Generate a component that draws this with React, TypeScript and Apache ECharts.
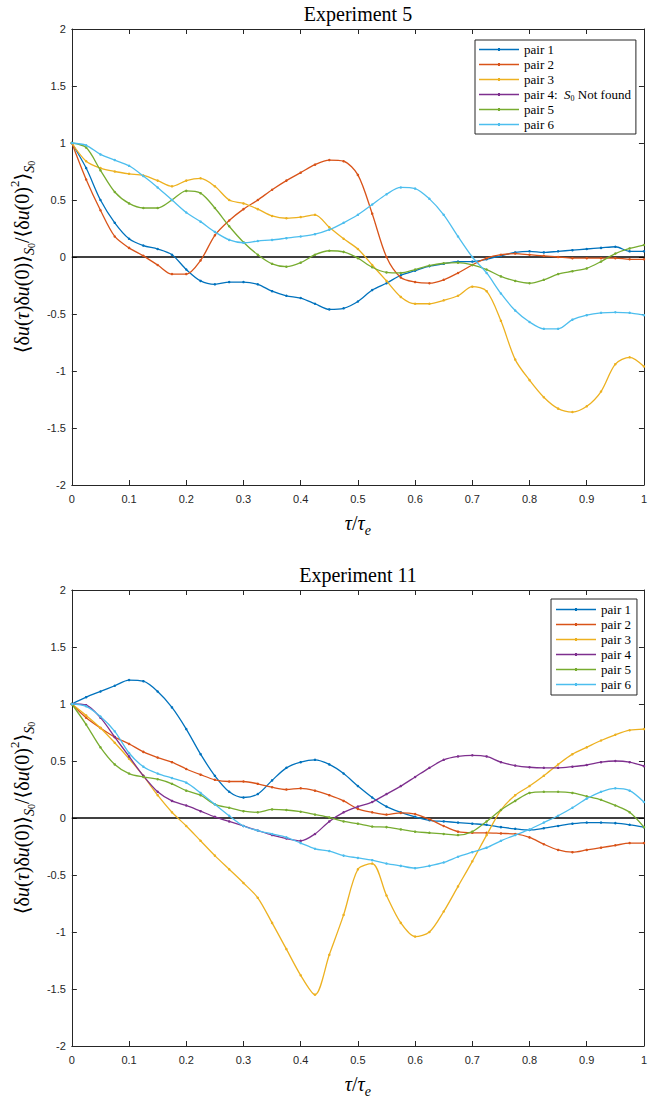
import React, { useEffect, useRef } from "react";
import * as echarts from "echarts";

// tau / tau_e sample positions
const tau = [0, 0.025, 0.05, 0.075, 0.1, 0.125, 0.15, 0.175, 0.2, 0.225, 0.25, 0.275, 0.3, 0.325, 0.35, 0.375, 0.4, 0.425, 0.45, 0.475, 0.5, 0.525, 0.55, 0.575, 0.6, 0.625, 0.65, 0.675, 0.7, 0.725, 0.75, 0.775, 0.8, 0.825, 0.85, 0.875, 0.9, 0.925, 0.95, 0.975, 1];

// Experiment 5
const e5p1 = [1.0, 0.78, 0.5, 0.3, 0.16, 0.1, 0.07, 0.02, -0.11, -0.21, -0.24, -0.22, -0.22, -0.24, -0.3, -0.34, -0.36, -0.41, -0.46, -0.45, -0.39, -0.29, -0.23, -0.16, -0.12, -0.08, -0.06, -0.04, -0.04, -0.02, 0.01, 0.04, 0.05, 0.04, 0.05, 0.06, 0.07, 0.08, 0.09, 0.05, 0.05];
const e5p2 = [1.0, 0.68, 0.41, 0.18, 0.08, 0.01, -0.07, -0.15, -0.15, -0.03, 0.19, 0.32, 0.42, 0.5, 0.59, 0.67, 0.74, 0.81, 0.85, 0.84, 0.72, 0.38, 0.0, -0.18, -0.22, -0.23, -0.2, -0.14, -0.07, -0.01, 0.02, 0.03, 0.02, 0.01, 0.0, -0.01, -0.01, -0.01, -0.01, -0.02, -0.02];
const e5p3 = [1.0, 0.84, 0.78, 0.75, 0.73, 0.715, 0.67, 0.62, 0.67, 0.69, 0.62, 0.5, 0.47, 0.42, 0.36, 0.34, 0.35, 0.37, 0.26, 0.16, 0.07, -0.07, -0.21, -0.35, -0.41, -0.41, -0.38, -0.34, -0.26, -0.3, -0.56, -0.9, -1.08, -1.23, -1.33, -1.36, -1.31, -1.18, -0.94, -0.88, -0.96];
const e5p4: number[] = [];
const e5p5 = [1.0, 0.96, 0.76, 0.57, 0.47, 0.43, 0.43, 0.5, 0.58, 0.56, 0.43, 0.27, 0.13, 0.02, -0.06, -0.085, -0.05, 0.02, 0.055, 0.045, -0.01, -0.09, -0.135, -0.14, -0.11, -0.075, -0.055, -0.05, -0.07, -0.11, -0.17, -0.21, -0.23, -0.2, -0.15, -0.125, -0.1, -0.04, 0.03, 0.075, 0.105];
const e5p6 = [1.0, 0.98, 0.9, 0.85, 0.8, 0.71, 0.61, 0.5, 0.39, 0.31, 0.22, 0.15, 0.125, 0.14, 0.15, 0.165, 0.18, 0.2, 0.24, 0.3, 0.37, 0.46, 0.55, 0.61, 0.6, 0.51, 0.37, 0.18, 0.0, -0.14, -0.32, -0.47, -0.57, -0.63, -0.63, -0.55, -0.51, -0.49, -0.485, -0.49, -0.51];

// Experiment 11
const e11p1 = [1.0, 1.06, 1.11, 1.16, 1.21, 1.2, 1.11, 0.97, 0.78, 0.56, 0.37, 0.23, 0.18, 0.21, 0.33, 0.44, 0.49, 0.51, 0.47, 0.39, 0.28, 0.18, 0.1, 0.05, 0.01, -0.02, -0.03, -0.04, -0.05, -0.06, -0.08, -0.095, -0.105, -0.09, -0.07, -0.05, -0.04, -0.04, -0.045, -0.06, -0.08];
const e11p2 = [1.0, 0.88, 0.79, 0.71, 0.65, 0.58, 0.53, 0.49, 0.43, 0.38, 0.335, 0.32, 0.32, 0.3, 0.27, 0.25, 0.26, 0.24, 0.2, 0.15, 0.08, 0.05, 0.03, 0.045, 0.035, -0.01, -0.07, -0.12, -0.13, -0.13, -0.135, -0.14, -0.17, -0.23, -0.28, -0.3, -0.28, -0.26, -0.24, -0.22, -0.22];
const e11p3 = [1.0, 0.9, 0.79, 0.66, 0.52, 0.37, 0.2, 0.05, -0.07, -0.2, -0.33, -0.45, -0.57, -0.7, -0.92, -1.15, -1.38, -1.55, -1.2, -0.85, -0.45, -0.4, -0.68, -0.92, -1.04, -1.0, -0.82, -0.6, -0.38, -0.15, 0.07, 0.2, 0.28, 0.37, 0.47, 0.56, 0.62, 0.68, 0.73, 0.77, 0.78];
const e11p4 = [1.0, 0.99, 0.88, 0.71, 0.54, 0.37, 0.23, 0.15, 0.11, 0.06, 0.01, -0.03, -0.07, -0.11, -0.15, -0.18, -0.2, -0.14, -0.03, 0.05, 0.1, 0.14, 0.21, 0.28, 0.36, 0.44, 0.51, 0.54, 0.55, 0.54, 0.49, 0.46, 0.445, 0.44, 0.44, 0.45, 0.465, 0.49, 0.5, 0.49, 0.455];
const e11p5 = [1.0, 0.82, 0.62, 0.47, 0.39, 0.36, 0.34, 0.3, 0.24, 0.2, 0.12, 0.09, 0.06, 0.05, 0.075, 0.07, 0.055, 0.03, 0.005, -0.03, -0.05, -0.075, -0.08, -0.1, -0.12, -0.13, -0.14, -0.15, -0.12, -0.03, 0.07, 0.15, 0.22, 0.23, 0.23, 0.22, 0.19, 0.16, 0.11, 0.05, -0.08];
const e11p6 = [1.0, 0.98, 0.89, 0.76, 0.57, 0.45, 0.39, 0.35, 0.31, 0.22, 0.12, 0.02, -0.07, -0.11, -0.14, -0.17, -0.22, -0.27, -0.29, -0.33, -0.35, -0.37, -0.4, -0.42, -0.44, -0.42, -0.39, -0.34, -0.3, -0.26, -0.2, -0.15, -0.1, -0.04, 0.02, 0.09, 0.17, 0.23, 0.26, 0.24, 0.14];

const titles = ["Experiment 5", "Experiment 11"];
const pairNames = ["pair 1", "pair 2", "pair 3", "pair 4", "pair 5", "pair 6"];
const colors = ["#0072BD", "#D95319", "#EDB120", "#7E2F8E", "#77AC30", "#4DBEEE"];

const AX = "#262626";
const SERIF = "'Liberation Serif', 'DejaVu Serif', serif";
const SANS = "'Liberation Sans', Arial, Helvetica, sans-serif";

const mathRich = {
  a: { fontFamily: SERIF, fontSize: 20, color: "#000", lineHeight: 28 },
  i: { fontFamily: SERIF, fontSize: 20, fontStyle: "italic", color: "#000", lineHeight: 28 },
  s: { fontFamily: SERIF, fontSize: 14, fontStyle: "italic", color: "#000", lineHeight: 14, verticalAlign: "bottom" },
  z: { fontFamily: SERIF, fontSize: 10, color: "#000", lineHeight: 10, verticalAlign: "bottom" },
  p: { fontFamily: SERIF, fontSize: 13, color: "#000", lineHeight: 13, verticalAlign: "top" },
};

const yName = "{a|⟨δ}{i|u}{a|(}{i|τ}{a|)δ}{i|u}{a|(0)⟩}{s|S}{z|0}{a|/⟨δ}{i|u}{a|(0)}{p|2}{a|⟩}{s|S}{z|0}";
const xName = "{i|τ}{a|/}{i|τ}{s|e}";

const GRID_TOPS = [29, 590];

// legend glyph: line with a small dot in the middle
const legendIcon = "path://M0,4.35H40V5.65H0Z M19,3.5H21V6.5H19Z";

function buildOption() {
  const grids = GRID_TOPS.map((t) => ({ left: 69, top: t, width: 578, height: 456, containLabel: false }));
  const xAxes: any[] = [];
  const yAxes: any[] = [];
  GRID_TOPS.forEach((_, g) => {
    const tick = { show: true, inside: true, length: 5, lineStyle: { color: AX, width: 1 } };
    const line = { show: true, onZero: false, lineStyle: { color: AX, width: 1 } };
    xAxes.push({
      type: "value", gridIndex: g, min: 0, max: 1, interval: 0.1, position: "bottom",
      axisLine: line, axisTick: tick, splitLine: { show: false },
      axisLabel: { color: AX, fontSize: 11, fontFamily: SANS, margin: 8 },
      name: xName, nameLocation: "middle", nameGap: 24,
      nameTextStyle: { rich: mathRich },
    });
    xAxes.push({
      type: "value", gridIndex: g, min: 0, max: 1, interval: 0.1, position: "top",
      axisLine: line, axisTick: tick, splitLine: { show: false }, axisLabel: { show: false },
    });
    yAxes.push({
      type: "value", gridIndex: g, min: -2, max: 2, interval: 0.5, position: "left",
      axisLine: line, axisTick: tick, splitLine: { show: false },
      axisLabel: { color: AX, fontSize: 11, fontFamily: SANS, margin: 6 },
      name: yName, nameLocation: "middle", nameGap: 34, nameRotate: 90,
      nameTextStyle: { rich: mathRich },
    });
    yAxes.push({
      type: "value", gridIndex: g, min: -2, max: 2, interval: 0.5, position: "right",
      axisLine: line, axisTick: tick, splitLine: { show: false }, axisLabel: { show: false },
    });
  });

  const exps = [
    { prefix: "E5 ", data: [e5p1, e5p2, e5p3, e5p4, e5p5, e5p6] },
    { prefix: "E11 ", data: [e11p1, e11p2, e11p3, e11p4, e11p5, e11p6] },
  ];

  const series: any[] = [];
  exps.forEach((ex, g) => {
    series.push({
      name: "zero" + g, type: "line", xAxisIndex: g * 2, yAxisIndex: g * 2,
      data: [[0, 0], [1, 0]], symbol: "none", silent: true,
      lineStyle: { color: "#000", width: 1.5 }, itemStyle: { color: "#000" }, z: 1,
    });
    ex.data.forEach((arr, k) => {
      series.push({
        name: ex.prefix + pairNames[k], type: "line", xAxisIndex: g * 2, yAxisIndex: g * 2,
        data: arr.map((v, i) => [tau[i], v]),
        symbol: "circle", symbolSize: 2.5, showSymbol: true, smooth: 0.3,
        color: colors[k], lineStyle: { color: colors[k], width: 1.3 },
        itemStyle: { color: colors[k] }, z: 2 + k,
      });
    });
  });

  const legendBase = {
    orient: "vertical", itemWidth: 40, itemHeight: 10, itemGap: 0, itemTextGap: 5,
    borderColor: AX, borderWidth: 1, backgroundColor: "#fff", borderRadius: 0,
    selectedMode: false, icon: legendIcon,
    textStyle: {
      fontFamily: SERIF, fontSize: 13, color: "#000", lineHeight: 15,
      rich: {
        i: { fontFamily: SERIF, fontSize: 13, fontStyle: "italic", color: "#000", lineHeight: 15 },
        z: { fontFamily: SERIF, fontSize: 8, color: "#000", lineHeight: 8, verticalAlign: "bottom" },
      },
    },
  };

  const legends = [
    {
      ...legendBase, left: 475, top: 40, padding: [2, 5, 2, 4],
      data: pairNames.map((p) => "E5 " + p),
      formatter: (name: string) => name === "E5 pair 4" ? "pair 4:  {i|S}{z|0} Not found" : name.replace(/^E\d+ /, ""),
    },
    {
      ...legendBase, left: 551, top: 599, padding: [3, 6, 3, 5],
      data: pairNames.map((p) => "E11 " + p),
      formatter: (name: string) => name.replace(/^E\d+ /, ""),
    },
  ];

  const graphic = titles.map((t, g) => ({
    type: "text", x: 358, y: g === 0 ? 14 : 575, z: 100,
    style: {
      text: t, fill: "#000", font: `20px ${SERIF}`, fontFamily: SERIF, fontSize: 20,
      textAlign: "center", align: "center", textVerticalAlign: "middle", verticalAlign: "middle",
    },
  }));

  return {
    animation: false,
    backgroundColor: "#fff",
    grid: grids,
    xAxis: xAxes,
    yAxis: yAxes,
    legend: legends,
    series,
    graphic,
  };
}

export default function App() {
  const ref = useRef<HTMLDivElement>(null);
  useEffect(() => {
    if (!ref.current) return;
    const chart = echarts.init(ref.current, null, { renderer: "svg" });
    chart.setOption(buildOption() as any);
    return () => chart.dispose();
  }, []);
  return (
    <div
      ref={ref}
      style={{ position: "absolute", left: 0, top: 0, width: 650, height: 1099, background: "#fff" }}
    />
  );
}
